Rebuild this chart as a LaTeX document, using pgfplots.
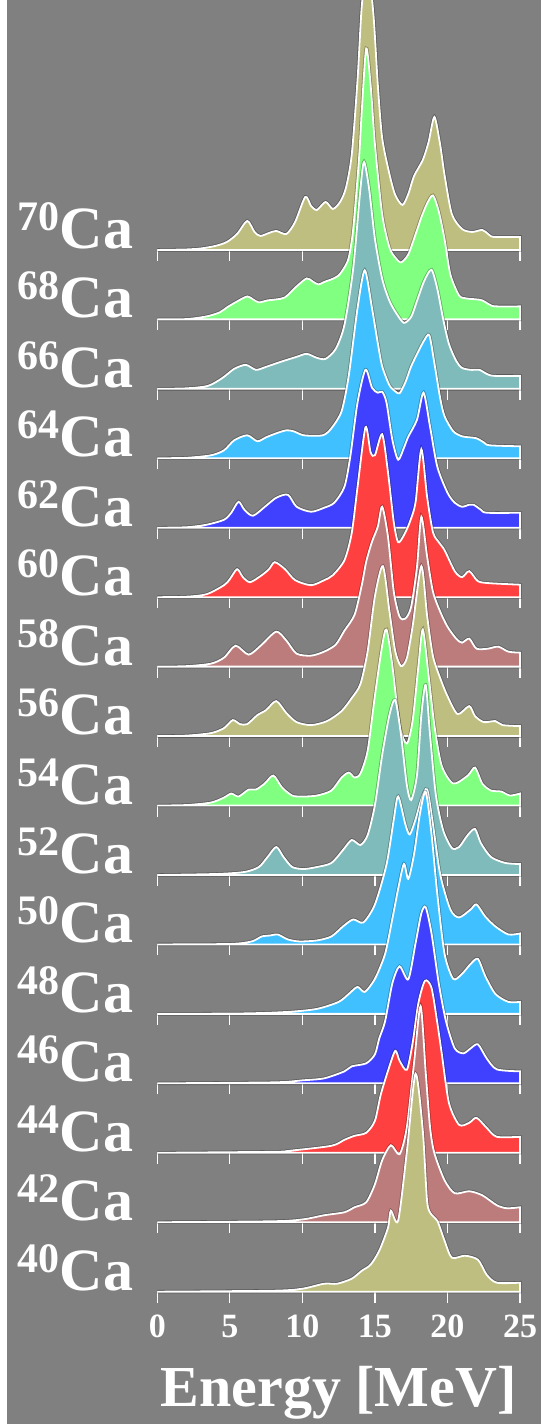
\documentclass[border=0pt]{standalone}
\usepackage{pgfplots}
\pgfplotsset{compat=1.18}
\usepackage{pgfplotstable}
\usepackage{fontspec}
\setmainfont{Liberation Serif}
\definecolor{bgc}{RGB}{128,128,128}
\definecolor{ctan}{RGB}{190,190,128}
\definecolor{crosy}{RGB}{188,124,124}
\definecolor{cred}{RGB}{255,64,64}
\definecolor{cblue}{RGB}{64,64,255}
\definecolor{clblue}{RGB}{64,192,255}
\definecolor{cteal}{RGB}{128,187,187}
\definecolor{cgreen}{RGB}{128,255,128}

\pgfplotstableread{
E h
0 0
2 0.5
3 1.5
4 4
4.8 8
5.5 16
6.2 29
6.7 18
7.1 14
7.7 17
8.2 19
8.9 16
9.5 28
10.2 53
10.6 44
11.0 40
11.6 48
12.1 41
12.6 48
13.0 62
13.4 95
13.8 170
14.1 245
14.5 285
14.9 235
15.2 165
15.5 112
16.0 76
16.4 55
16.9 45
17.3 56
17.7 74
18.3 90
18.7 108
19.1 133
19.5 105
19.8 75
20.3 36
21.0 21
21.7 18
22.4 20
22.8 16
23.2 13
25 13
}\tSeventy
\pgfplotstableread{
E h
0 0
2 0.3
3.4 3
4.3 7
4.8 12
5.5 18
6.2 23
6.6 20
7.0 17
7.6 19
8.2 20
8.8 22
9.6 33
10.3 41
10.7 38
11.1 35
11.6 38
12.0 40
12.5 44
12.9 52
13.2 62
13.5 90
13.9 160
14.1 210
14.4 271
14.7 235
15.0 175
15.5 105
16.0 72
16.4 62
16.8 57
17.3 65
17.8 85
18.2 102
18.6 116
19.0 124
19.4 108
19.8 80
20.2 45
20.8 24
21.3 21
22.0 20
22.4 19
23.0 14
23.4 13
25 13
}\tSixtyEight
\pgfplotstableread{
E h
0 0
2 0.5
3.5 3
4.5 11
5.3 20
6.1 24
6.8 19
7.5 22
8.5 27
9.6 32
10.3 35
11.0 31
11.6 30
12.3 40
12.9 64
13.5 120
14.0 200
14.25 227
14.6 200
15.0 150
15.5 110
16.0 88
16.5 75
17.0 66
17.5 72
17.9 88
18.4 108
18.9 119
19.3 100
19.7 70
20.1 45
20.6 28
21.0 21
21.6 19
22.2 19
22.7 15
23.2 13
25 13
}\tSixtySix
\pgfplotstableread{
E h
0 0
2 0.5
3.7 3
4.6 8
5.3 18
6.2 23
6.9 17
7.5 21
8.2 25
8.9 28
9.4 27
10.1 23
11.4 23
12.0 30
12.7 47
13.2 83
13.8 150
14.3 188
14.8 150
15.2 115
15.5 92
16.0 73
16.4 67
16.7 65
17.1 76
17.5 92
18.0 107
18.4 118
18.75 123
19.1 95
19.5 60
19.8 42
20.4 27
21.0 22
21.5 21
22.0 20
22.5 16
22.9 13
25 12
}\tSixtyFour
\pgfplotstableread{
E h
0 0
2 0.5
3.4 3
4.6 8
5.1 15
5.6 26
6.0 18
6.6 12
7.5 22
8.2 30
9.0 33
9.6 21
10.6 16
11.5 20
12.2 25
12.9 41
13.3 71
13.8 125
14.35 158
14.8 140
15.2 135
15.5 136
15.8 125
16.2 88
16.6 68
17.0 80
17.3 91
17.9 108
18.35 135
18.8 101
19.3 61
20.0 35
20.5 25
21.0 21
21.5 23
21.8 23
22.3 18
22.7 15
25 15
}\tSixtyTwo
\pgfplotstableread{
E h
0 0
2 0.5
3.4 3
4.6 12
5.0 18
5.5 28
5.9 20
6.4 15
7.2 22
7.7 28
8.1 35
8.8 28
9.5 17
10.6 12
11.5 17
12.1 22
12.9 37
13.4 64
13.8 110
14.35 170
14.7 145
15.0 142
15.5 163
15.9 125
16.3 75
16.6 55
17.0 62
17.4 75
17.8 95
18.2 148
18.6 100
19.0 65
19.4 55
19.8 47
20.5 26
21.0 20
21.5 26
22.1 16
22.9 14
25 12.5
}\tSixty
\pgfplotstableread{
E h
0 0
2 0.5
3.7 3
4.6 9
5.4 21
6.3 12
7.2 22
8.2 35
8.9 26
9.6 13
10.6 11
11.5 15
12.3 22
12.9 36
13.6 52
14.1 82
14.4 105
14.8 125
15.2 140
15.5 160
15.9 130
16.3 75
16.7 50
17.1 48
17.5 60
17.9 100
18.2 150
18.6 110
19.0 75
19.5 55
20.0 40
20.6 28
21.0 24
21.5 28
22.0 18
22.8 18
23.5 20
24.2 15
25 14
}\tFiftyEight
\pgfplotstableread{
E h
0 0
2 0.5
3.7 3
4.6 8
5.2 16
5.7 12
6.2 12
6.9 21
7.5 26
8.2 35
8.9 23
9.6 14
10.6 11
11.7 15
12.7 25
13.4 38
14.0 52
14.5 85
15.0 140
15.55 170
16.0 125
16.4 85
16.8 70
17.2 78
17.6 110
18.2 170
18.6 120
19.0 80
19.5 58
20.0 40
20.7 22
21.5 30
21.9 20
22.5 14
23.3 15
23.8 11
25 10
}\tFiftySix
\pgfplotstableread{
E h
0 0
2 0.5
3.7 3
4.6 8
5.1 12
5.6 9
6.3 16
6.8 16
7.4 22
8.0 30
8.6 18
9.3 10
10.0 9
11.0 10
12.0 15
12.7 28
13.2 33
13.6 28
14.0 32
14.5 55
15.0 110
15.5 160
15.8 176
16.2 140
16.7 80
17.2 62
17.6 85
18.0 140
18.3 176
18.7 130
19.1 80
19.6 40
20.4 22
21.4 30
21.9 38
22.4 22
23.0 15
23.7 14
24.3 10
25 12
}\tFiftyFour
\pgfplotstableread{
E h
0 0
4 1
6 3
7.0 8
7.6 18
8.2 28
8.7 18
9.3 8
10.1 6
11.0 8
12.0 12
12.8 25
13.4 35
14.0 30
14.5 40
15.0 70
15.5 120
16.0 160
16.4 175
16.8 140
17.2 90
17.5 75
17.9 100
18.2 160
18.5 190
18.8 140
19.2 80
19.7 45
20.3 27
20.8 28
21.4 40
21.9 46
22.3 32
23.0 18
24.0 12
25 11
}\tFiftyTwo
\pgfplotstableread{
E h
0 0
5 0.5
6.5 3
7.2 8
7.8 9
8.3 10
9.0 5
9.8 3
11.0 4
12.0 8
12.8 18
13.5 25
14.2 22
15.0 40
15.8 80
16.3 125
16.6 148
17.1 120
17.4 110
17.8 125
18.2 145
18.6 155
19.0 120
19.5 70
20.2 35
20.8 27
21.6 35
22.0 40
22.6 28
23.3 18
24.2 10
25 11
}\tFifty
\pgfplotstableread{
E h
0 0
6 0.5
9 2
11 5
12.5 12
13.2 20
13.8 27
14.3 22
15.0 35
15.7 60
16.2 95
16.6 125
17.0 150
17.3 135
17.7 160
18.1 200
18.5 222
18.9 180
19.3 120
19.8 60
20.4 35
21.0 40
21.6 50
22.1 55
22.6 38
23.3 20
24.2 12
25 12
}\tFortyEight
\pgfplotstableread{
E h
0 0
8 1
10 3
11.5 5
12.9 12
13.4 17
14.4 20
15.0 29
15.3 45
15.7 62
16.2 100
16.7 117
17.3 104
17.8 140
18.2 170
18.5 176
18.9 150
19.4 100
19.9 62
20.5 35
21.1 30
21.6 35
22.1 39
22.7 25
23.4 14
25 12
}\tFortySix
\pgfplotstableread{
E h
0 0
8 1
9.1 2
12 7
12.9 13
13.6 17
14.4 20
15.0 32
15.4 58
15.9 82
16.4 102
16.7 92
17.2 83
17.6 110
18.0 150
18.45 172
18.9 165
19.3 130
19.6 100
20.1 50
20.8 28
21.5 30
22.0 35
22.7 25
23.4 16
25 16
}\tFortyFour
\pgfplotstableread{
E h
0 0
8 1
10.1 3
11.5 7
12.9 10
13.6 15
14.4 20
15.0 38
15.5 62
16.1 77
16.7 68
17.2 95
17.7 160
18.15 216
18.5 150
18.8 95
19.1 69
19.8 42
20.5 29
21.5 31
22.4 27
23.4 17
24.1 14
25 15
}\tFortyTwo
\pgfplotstableread{
E h
0 0
8 1
10 3
11.5 8
12.4 8
13.4 13
14.1 21
14.7 27
15.3 41
15.9 64
16.1 81
16.6 71
17.2 140
17.8 218
18.3 161
18.6 90
18.9 77
19.3 71
19.8 51
20.3 34
21.2 36
22.1 32
22.7 17
23.4 9
25 9
}\tForty

\pgfplotsset{ridge/.style={anchor=origin, x=14.508pt, y=1pt,
  xmin=0, xmax=25, ymin=0, ymax=60,
  axis x line*=bottom, axis y line=none, clip=false,
  xtick={0,5,10,15,20,25}, xticklabels={},
  tick align=outside, major tick length=11pt,
  axis line style={white, line width=1.3pt},
  major tick style={white, line width=1.3pt}}}

\newcommand{\labfont}{\fontsize{60}{60}\selectfont\bfseries}
\newcommand{\supfont}{\fontsize{42}{42}\selectfont\bfseries}

% #1 index, #2 colour, #3 table, #4 mass number, #5 extra options
\newcommand{\ridge}[5]{%
\begin{axis}[ridge, at={(157.3pt,{132.3pt+#1*69.45pt})}, #5]
\addplot[fill=#2, draw=white, line width=1.8pt, smooth, tension=0.45,
  preaction={draw=black, draw opacity=0.3, line width=3.4pt}] table[x=E,y=h] {#3} \closedcycle;
\node[anchor=base east, text=white, inner sep=0pt] at (axis cs:0,0) [xshift=-24pt, yshift=1.5pt] {\labfont\raisebox{18pt}{\supfont #4}Ca};
\end{axis}}

\begin{document}
\begin{tikzpicture}
\useasboundingbox (0,0) rectangle (541pt,1424pt);
\clip (0,0) rectangle (541pt,1424pt);
\fill[white] (0,0) rectangle (541pt,1424pt);
\fill[bgc] (7pt,0) rectangle (541pt,1424pt);
\ridge{15}{ctan}{\tSeventy}{70}{}
\ridge{14}{cgreen}{\tSixtyEight}{68}{}
\ridge{13}{cteal}{\tSixtySix}{66}{}
\ridge{12}{clblue}{\tSixtyFour}{64}{}
\ridge{11}{cblue}{\tSixtyTwo}{62}{}
\ridge{10}{cred}{\tSixty}{60}{}
\ridge{9}{crosy}{\tFiftyEight}{58}{}
\ridge{8}{ctan}{\tFiftySix}{56}{}
\ridge{7}{cgreen}{\tFiftyFour}{54}{}
\ridge{6}{cteal}{\tFiftyTwo}{52}{}
\ridge{5}{clblue}{\tFifty}{50}{}
\ridge{4}{clblue}{\tFortyEight}{48}{}
\ridge{3}{cblue}{\tFortySix}{46}{}
\ridge{2}{cred}{\tFortyFour}{44}{}
\ridge{1}{crosy}{\tFortyTwo}{42}{}
\ridge{0}{ctan}{\tForty}{40}{xticklabels={0,5,10,15,20,25},
  xticklabel style={anchor=north, inner sep=0pt, yshift=-12pt, text=white,
    font=\fontsize{34}{34}\selectfont\bfseries}}
\node[anchor=base, text=white, inner sep=0pt, font=\fontsize{58}{58}\selectfont\bfseries]
  at (338.6pt, 17.3pt) {Energy [MeV]};
\end{tikzpicture}
\end{document}
